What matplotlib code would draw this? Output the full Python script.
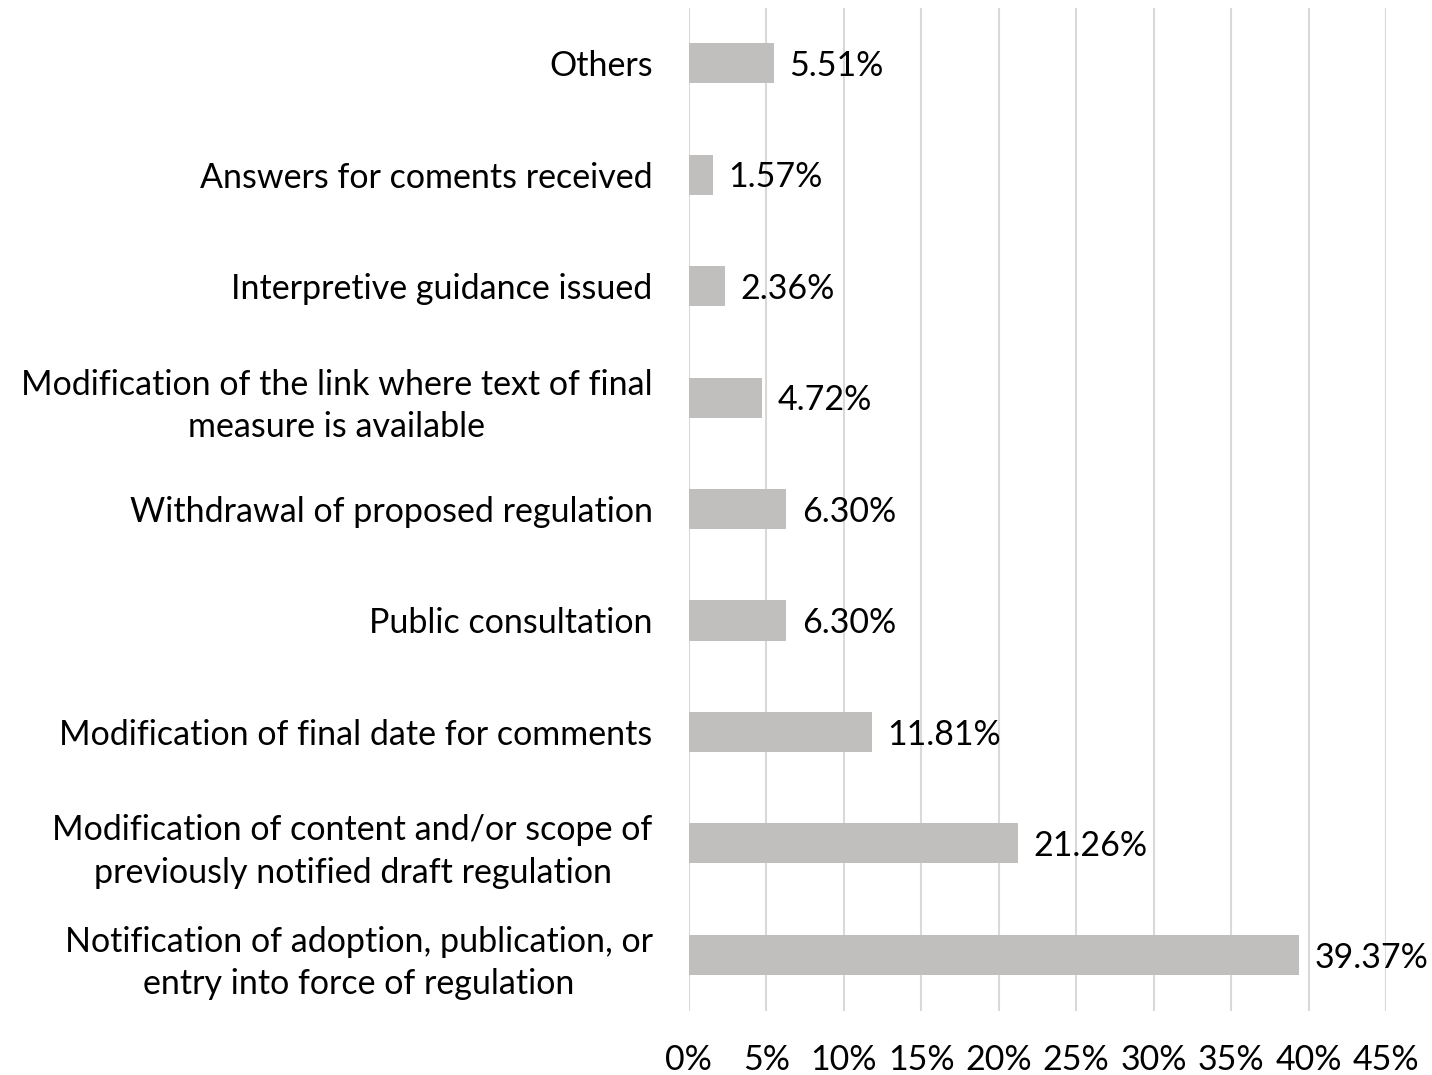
import matplotlib.pyplot as plt

plt.rcParams.update({
    "font.family": ["Lato", "DejaVu Sans"],
    "font.size": 24.5,
})

categories = [
    "Notification of adoption, publication, or\nentry into force of regulation",
    "Modification of content and/or scope of\npreviously notified draft regulation",
    "Modification of final date for comments",
    "Public consultation",
    "Withdrawal of proposed regulation",
    "Modification of the link where text of final\nmeasure is available",
    "Interpretive guidance issued",
    "Answers for coments received",
    "Others",
]
shares = [39.37, 21.26, 11.81, 6.30, 6.30, 4.72, 2.36, 1.57, 5.51]
ticks = [0, 5, 10, 15, 20, 25, 30, 35, 40, 45]

fig = plt.figure(figsize=(14.32, 10.75), dpi=100)
ax = fig.add_axes([0.481, 0.06, 0.487, 0.933])

ypos = range(len(categories))
ax.barh(ypos, shares, height=0.36, color="#C0BFBD", zorder=2)
for y, v in zip(ypos, shares):
    ax.annotate(f"{v:.2f}%", (v, y), xytext=(11, -2), textcoords="offset points",
                ha="left", va="center", fontsize=24.5)

ax.set_yticks(list(ypos))
ax.set_yticklabels(categories, ha="right", multialignment="center", linespacing=1.4)
ax.set_ylim(-0.5, len(categories) - 0.5)
ax.set_xlim(0, 45)
ax.set_xticks(ticks)
ax.set_xticklabels([f"{t}%" for t in ticks])
ax.tick_params(axis="both", length=0)
ax.tick_params(axis="y", pad=26)
ax.tick_params(axis="x", pad=24)
ax.grid(axis="x", color="#D9D9D9", linewidth=1.5, zorder=0)
ax.set_axisbelow(True)
for s in ax.spines.values():
    s.set_visible(False)

fig.savefig("out.png", dpi=100)
